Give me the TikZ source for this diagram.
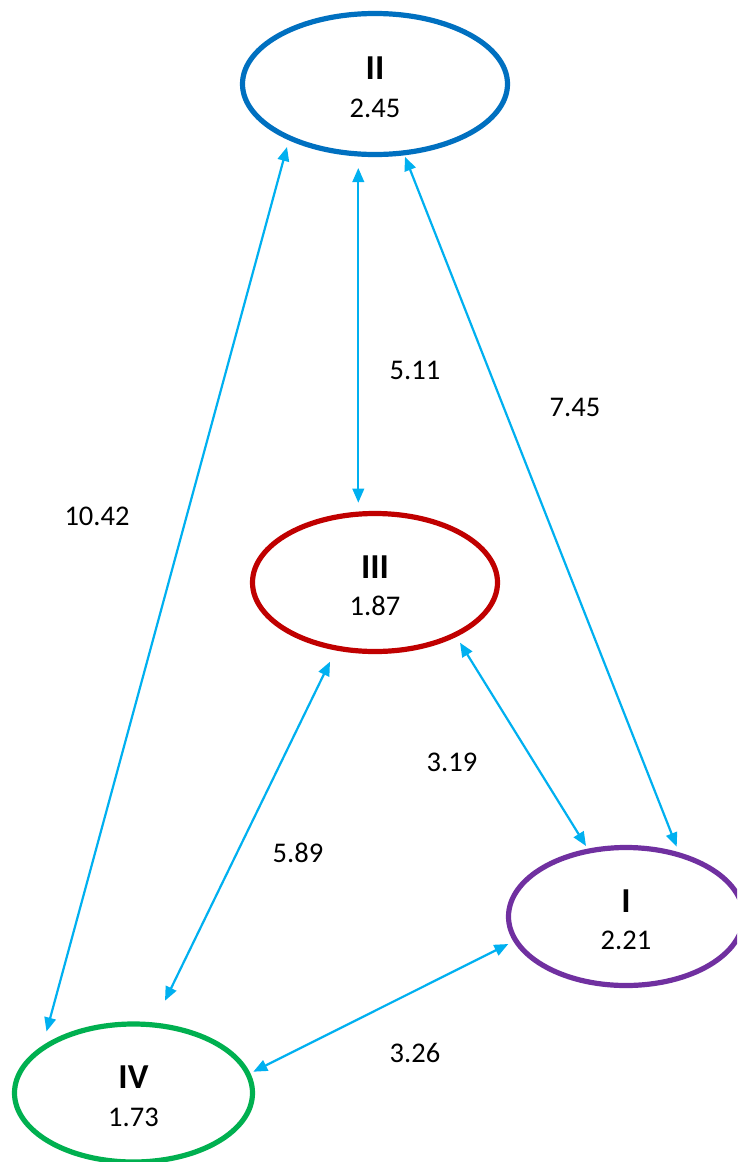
\documentclass[tikz,border=0pt]{standalone}
\usepackage{fontspec}
\setmainfont{Carlito}
\usetikzlibrary{arrows.meta,shapes.geometric}
\definecolor{cII}{RGB}{0,112,192}
\definecolor{cIII}{RGB}{192,0,0}
\definecolor{cI}{RGB}{112,48,160}
\definecolor{cIV}{RGB}{0,176,80}
\definecolor{link}{RGB}{0,176,240}
\begin{document}
\begin{tikzpicture}[x=1pt,y=-1pt,
  ell/.style={ellipse,draw,line width=5.2pt,inner sep=0pt,outer sep=0pt},
  numeral/.style={anchor=base,font=\fontsize{35}{40}\selectfont\bfseries,inner sep=0pt},
  value/.style={anchor=base,font=\fontsize{28.5}{34}\selectfont,inner sep=0pt},
  elabel/.style={font=\fontsize{28.5}{34}\selectfont,inner sep=0pt},
  link/.style={draw=link,line width=2.2pt,{Triangle[length=14pt,width=11.5pt]}-{Triangle[length=14pt,width=11.5pt]}}
]
\clip (0,0) rectangle (737,1162);
\fill[white] (0,0) rectangle (737,1162);
% ellipses
\node[ell,draw=cII,minimum width=265pt,minimum height=141pt] (II) at (375,84) {};
\node[ell,draw=cIII,minimum width=245pt,minimum height=138pt] (III) at (375,582.5) {};
\node[ell,draw=cI,minimum width=235pt,minimum height=138pt] (I) at (626,916.5) {};
\node[ell,draw=cIV,minimum width=238pt,minimum height=138pt] (IV) at (133.5,1093) {};
% texts
\node[numeral] (tII) at ([yshift=4.5pt]II.center) {II};
\node[value] (vII) at ([yshift=-33pt]II.center) {2.45};
\node[numeral] (tIII) at ([yshift=4.5pt]III.center) {III};
\node[value] (vIII) at ([yshift=-33pt]III.center) {1.87};
\node[numeral] (tI) at ([yshift=4.5pt]I.center) {I};
\node[value] (vI) at ([yshift=-33pt]I.center) {2.21};
\node[numeral] (tIV) at ([yshift=4.5pt]IV.center) {IV};
\node[value] (vIV) at ([yshift=-33pt]IV.center) {1.73};
% connector ends
\coordinate (II-IV) at (287,147);
\coordinate (IV-II) at (46.5,1031.5);
\coordinate (II-III) at (358.3,168);
\coordinate (III-II) at (358.3,502.7);
\coordinate (II-I) at (405,156.7);
\coordinate (I-II) at (676.7,846.7);
\coordinate (III-I) at (460,642.7);
\coordinate (I-III) at (586,846);
\coordinate (III-IV) at (330,661.7);
\coordinate (IV-III) at (165,1000.7);
\coordinate (IV-I) at (253.3,1071.7);
\coordinate (I-IV) at (508.3,944);
% connectors
\draw[link] (II-IV) -- (IV-II);
\draw[link] (II-III) -- (III-II);
\draw[link] (II-I) -- (I-II);
\draw[link] (III-I) -- (I-III);
\draw[link] (III-IV) -- (IV-III);
\draw[link] (IV-I) -- (I-IV);
% labels
\node[elabel] (l1) at (415,370) {5.11};
\node[elabel] (l2) at (575,407) {7.45};
\node[elabel] (l3) at (97,516) {10.42};
\node[elabel] (l4) at (452,762) {3.19};
\node[elabel] (l5) at (298,853) {5.89};
\node[elabel] (l6) at (415,1053) {3.26};
\end{tikzpicture}
\end{document}
